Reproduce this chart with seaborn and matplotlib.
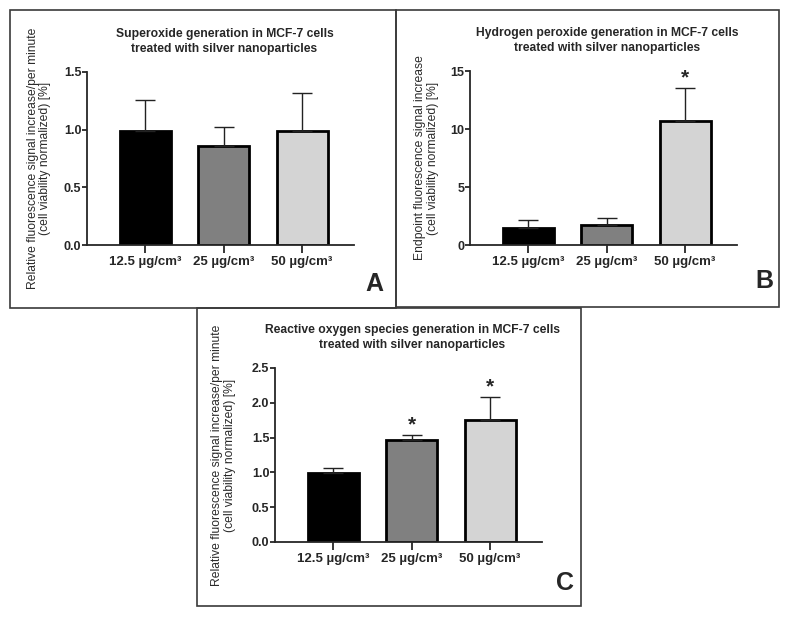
import numpy as np
import matplotlib
matplotlib.use("Agg")
import matplotlib.pyplot as plt
from matplotlib.patches import Rectangle
import seaborn as sns

# ---- data ----
concentrations = ["12.5 µg/cm³", "25 µg/cm³", "50 µg/cm³"]
bar_colors = ["#000000", "#808080", "#d4d4d4"]

superoxide_mean = [0.99, 0.86, 0.99]
superoxide_sd = [0.27, 0.16, 0.33]
superoxide_sig = [False, False, False]

h2o2_mean = [1.47, 1.70, 10.72]
h2o2_sd = [0.69, 0.60, 2.84]
h2o2_sig = [False, False, True]

ros_mean = [0.99, 1.47, 1.75]
ros_sd = [0.07, 0.07, 0.33]
ros_sig = [False, True, True]

sns.set_style("ticks")
plt.rcParams["font.family"] = ["Liberation Sans", "DejaVu Sans"]

W, H = 793, 618
fig = plt.figure(figsize=(W / 100, H / 100), dpi=100)


def px_rect(x0, y0, x1, y1):
    # pixel box (top-left origin) -> figure fraction rect
    return [x0 / W, 1 - y1 / H, (x1 - x0) / W, (y1 - y0) / H]


def panel(rect, mean, sd, sig, ymax, yticks, fmt, title, ylabel, label_x):
    ax = fig.add_axes(rect)
    sns.barplot(x=concentrations, y=mean, hue=concentrations, palette=bar_colors,
                legend=False, width=0.65, edgecolor="black", linewidth=2,
                errorbar=None, ax=ax)
    ax.errorbar(range(3), mean, yerr=[np.zeros(3), sd], fmt="none",
                ecolor="#222222", elinewidth=1, capsize=7.5, capthick=1, zorder=3)
    for i, s in enumerate(sig):
        if s:
            ax.annotate("*", (i, mean[i] + sd[i]), xytext=(0, 0.5), textcoords="offset points",
                        ha="center", va="bottom", fontsize=15, fontweight="bold")
    ax.set_xlim(-0.74, 2.66)
    ax.set_ylim(0, ymax)
    ax.set_yticks(yticks)
    ax.set_yticklabels([fmt.format(t) for t in yticks])
    sns.despine(ax=ax)
    for sp in ("left", "bottom"):
        ax.spines[sp].set_linewidth(1.3)
    ax.tick_params(axis="y", length=3.5, width=1.3, pad=0.5, labelsize=9)
    ax.tick_params(axis="x", length=6, width=1.3, pad=2, labelsize=9.5)
    for lab in ax.get_xticklabels() + ax.get_yticklabels():
        lab.set_fontweight("bold")
    ax.set_title(title, fontsize=8.7, fontweight="bold", pad=14.5, x=0.515, linespacing=1.3)
    ax.set_ylabel(ylabel, fontsize=8.7, color="#2a2a2a", linespacing=1.05)
    ax.yaxis.set_label_coords(label_x, 0.5)
    ax.set_xlabel("")
    return ax


# panel A
panel(px_rect(87, 72, 354, 245), superoxide_mean, superoxide_sd, superoxide_sig,
      1.5, [0, 0.5, 1.0, 1.5], "{:.1f}",
      "Superoxide generation in MCF-7 cells\ntreated with silver nanoparticles",
      "Relative fluorescence signal increase/per minute\n(cell viability normalized) [%]", -0.135)

# panel B
panel(px_rect(470, 71, 737, 245), h2o2_mean, h2o2_sd, h2o2_sig,
      15, [0, 5, 10, 15], "{:.0f}",
      "Hydrogen peroxide generation in MCF-7 cells\ntreated with silver nanoparticles",
      "Endpoint fluorescence signal increase\n(cell viability normalized) [%]", -0.117)

# panel C
panel(px_rect(275, 368, 542, 542), ros_mean, ros_sd, ros_sig,
      2.5, [0, 0.5, 1.0, 1.5, 2.0, 2.5], "{:.1f}",
      "Reactive oxygen species generation in MCF-7 cells\ntreated with silver nanoparticles",
      "Relative fluorescence signal increase/per minute\n(cell viability normalized) [%]", -0.147)

# frames around the panels
for (x0, y0, x1, y1) in [(10, 10, 396, 308), (396, 10, 779, 307), (197, 308, 581, 606)]:
    fig.add_artist(Rectangle((x0 / W, 1 - y1 / H), (x1 - x0) / W, (y1 - y0) / H,
                             transform=fig.transFigure, fill=False,
                             edgecolor="#3a3a3a", linewidth=1.2))

# panel letters
for letter, x, y in [("A", 374, 291), ("B", 764, 288), ("C", 565, 590)]:
    fig.text(x / W, 1 - y / H, letter, ha="center", va="baseline",
             fontsize=18, fontweight="bold")

fig.savefig("out.png", dpi=100)
